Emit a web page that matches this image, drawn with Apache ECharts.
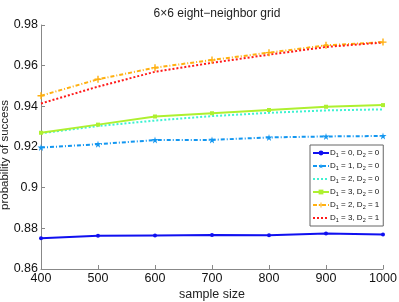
<!DOCTYPE html>
<html><head><meta charset="utf-8">
<script src="https://cdn.jsdelivr.net/npm/echarts@6/dist/echarts.min.js"></script>
<style>html,body{margin:0;padding:0;background:#fff}#c{width:399px;height:302px}</style>
</head><body><div id="c"></div>
<script>
const categories = [400, 500, 600, 700, 800, 900, 1000];
const yTicks = [0.86, 0.88, 0.9, 0.92, 0.94, 0.96, 0.98];
const d1_0_d2_0 = [0.8751, 0.8763, 0.8765, 0.8767, 0.8766, 0.8775, 0.8770];
const d1_1_d2_0 = [0.9197, 0.9214, 0.9234, 0.9235, 0.9247, 0.9252, 0.9254];
const d1_2_d2_0 = [0.9268, 0.9303, 0.9330, 0.9352, 0.9368, 0.9380, 0.9385];
const d1_3_d2_0 = [0.9270, 0.9310, 0.9350, 0.9366, 0.9382, 0.9398, 0.9406];
const d1_2_d2_1 = [0.9452, 0.9533, 0.9590, 0.9628, 0.9664, 0.9700, 0.9716];
const d1_3_d2_1 = [0.9414, 0.9497, 0.9570, 0.9614, 0.9654, 0.9692, 0.9714];
const names = ['D1 = 0, D2 = 0','D1 = 1, D2 = 0','D1 = 2, D2 = 0','D1 = 3, D2 = 0','D1 = 2, D2 = 1','D1 = 3, D2 = 1'];

const font = 'Liberation Sans, Arial, sans-serif';
function mk(name, data, color, type, symbol, size){
  return {
    name, type:'line', data: categories.map((c,i)=>[c,data[i]]),
    lineStyle:{color, width:2, type},
    itemStyle:{color},
    symbol: symbol, symbolSize: size, showSymbol: symbol!=='none',
    animation:false, z: 3
  };
}
const starPath = 'path://M0,-10L2,-3L10,-3L4,2L6,10L0,5L-6,10L-4,2L-10,-3L-2,-3Z';
const plusPath = 'path://M-2,-10H2V-2H10V2H2V10H-2V2H-10V-2H-2Z';
const chart = echarts.init(document.getElementById('c'), null, {renderer:'canvas'});
chart.setOption({
  backgroundColor:'#fff',
  title:{text:'6×6 eight\u2212neighbor grid', left:212, top:3, textAlign:'center',
    textStyle:{fontFamily:font, fontSize:12, fontWeight:'normal', color:'#222'}},
  grid:{left:41, right:16, top:25, bottom:33, containLabel:false, outerBoundsMode:'none'},
  xAxis:{type:'value', min:400, max:1000, interval:100,
    name:'sample size', nameLocation:'middle', nameGap:19, nameMoveOverlap:false,
    nameTextStyle:{fontFamily:font, fontSize:12.5, color:'#222'},
    axisLine:{lineStyle:{color:'#888'}},
    axisTick:{inside:true, length:4, lineStyle:{color:'#888'}},
    axisLabel:{fontFamily:font, fontSize:12.5, color:'#111', margin:3, formatter: v => String(v)},
    splitLine:{show:false}},
  yAxis:{type:'value', min:0.86, max:0.98, interval:0.02,
    name:'probability of success', nameLocation:'middle', nameGap:30, nameMoveOverlap:false,
    nameTextStyle:{fontFamily:font, fontSize:11.5, color:'#222', padding:[0,16,0,0]},
    axisLine:{show:true, lineStyle:{color:'#888'}},
    axisTick:{show:true, inside:true, length:4, lineStyle:{color:'#888'}},
    axisLabel:{fontFamily:font, fontSize:12.5, color:'#111', margin:3,
      formatter: v => { const t = yTicks.find(x=>Math.abs(x-v)<1e-9); return t===undefined? '' : String(t); }},
    splitLine:{show:false}},
  legend:{orient:'vertical', left:310, top:145, itemWidth:16, itemHeight:6, itemGap:4,
    padding:[4,4,3,2], borderColor:'#666', borderWidth:1, backgroundColor:'#fff',
    data: names.map((n,i)=> (i===2||i===5) ? {name:n, itemStyle:{opacity:0}} : n),
    formatter: n => { const m = n.match(/D1 = (\d), D2 = (\d)/); return '{a|D}{s|1}{a| = '+m[1]+', D}{s|2}{a| = '+m[2]+'}'; },
    textStyle:{fontFamily:font, fontSize:8, color:'#111', padding:[0,0,0,-4],
      rich:{a:{fontFamily:font, fontSize:8, color:'#111', verticalAlign:'middle'},
            s:{fontFamily:font, fontSize:5.5, color:'#111', padding:[4,0,0,0], verticalAlign:'middle'}}}},
  series:[
    mk(names[0], d1_0_d2_0, '#1010f0', 'solid', 'circle', 4),
    mk(names[1], d1_1_d2_0, '#1296f0', [4,2,1,2], starPath, 7),
    mk(names[2], d1_2_d2_0, '#3ff2d2', [2,2], 'none', 0),
    mk(names[3], d1_3_d2_0, '#aef030', 'solid', 'rect', 4),
    mk(names[4], d1_2_d2_1, '#ffb010', [4,2,1,2], plusPath, 7),
    mk(names[5], d1_3_d2_1, '#ff1a1a', [2,2], 'none', 0)
  ]
});
</script></body></html>
